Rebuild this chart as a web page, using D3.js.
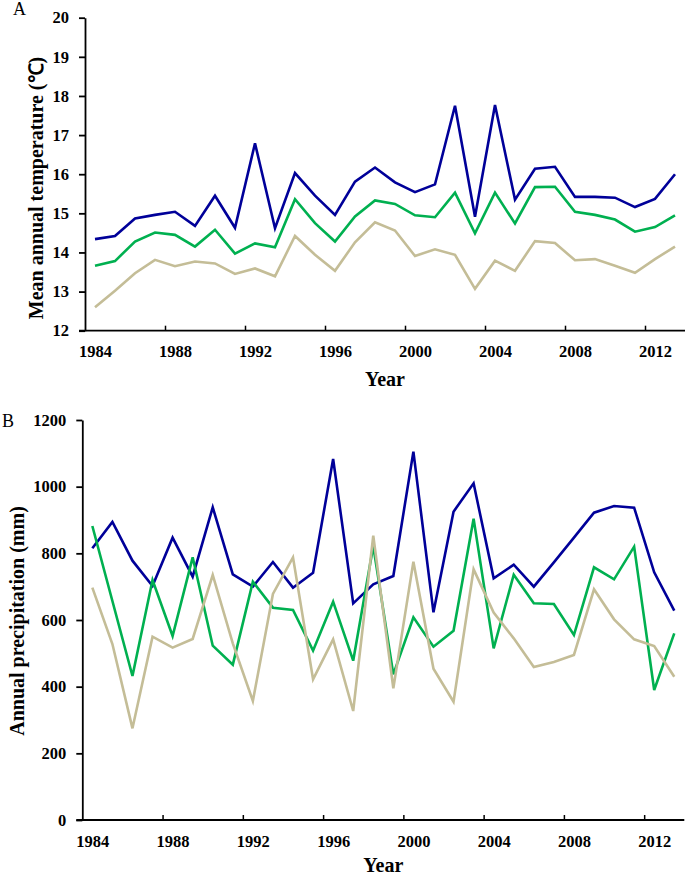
<!DOCTYPE html>
<html><head><meta charset="utf-8">
<script src="https://cdn.jsdelivr.net/npm/d3@7"></script>
<style>
body{margin:0;background:#fff}
svg{display:block}
text{font-family:"Liberation Serif","Times New Roman",serif}
</style>
</head><body>
<svg id="c" width="685" height="876"></svg>
<script>
// ---------- data ----------
const years = [1984,1985,1986,1987,1988,1989,1990,1991,1992,1993,1994,1995,1996,1997,1998,1999,2000,2001,2002,2003,2004,2005,2006,2007,2008,2009,2010,2011,2012,2013];
const yearLabels = [1984,1988,1992,1996,2000,2004,2008,2012];
const yearBoundaryTicks = [1988,1992,1996,2000,2004,2008,2012];

const tempTicks = [12,13,14,15,16,17,18,19,20];
const tempBlue  = [14.34,14.42,14.87,14.96,15.04,14.68,15.45,14.63,16.79,14.62,16.03,15.45,14.96,15.81,16.17,15.79,15.54,15.74,17.75,14.91,17.77,15.35,16.14,16.19,15.42,15.42,15.40,15.16,15.37,16.00];
const tempGreen = [13.66,13.78,14.28,14.51,14.45,14.15,14.58,13.97,14.23,14.13,15.36,14.75,14.28,14.92,15.33,15.24,14.95,14.90,15.53,14.49,15.53,14.74,15.67,15.68,15.04,14.96,14.84,14.53,14.65,14.95];
const tempTan   = [12.60,13.02,13.47,13.81,13.65,13.77,13.72,13.45,13.59,13.39,14.42,13.94,13.53,14.26,14.77,14.56,13.91,14.08,13.94,13.07,13.79,13.53,14.29,14.24,13.80,13.83,13.66,13.48,13.83,14.15];

const precTicks = [0,200,400,600,800,1000,1200];
const precBlue  = [815,894,778,702,847,730,938,737,700,774,697,742,1083,650,707,732,1105,623,925,1010,725,766,700,773,847,922,942,937,743,628];
const precGreen = [882,657,432,720,552,788,523,466,715,637,630,508,655,478,822,437,608,520,568,904,515,736,650,648,555,758,722,820,390,560];
const precTan   = [697,528,275,550,517,543,735,530,357,678,788,422,542,327,853,395,775,454,355,752,622,545,459,474,495,692,602,542,522,430];

const seriesColors = ["#000099","#00B050","#C4BD97"];

// ---------- drawing ----------
const svg = d3.select("#c");

function panel(cfg){
  const g = svg.append("g");
  const x = d3.scaleLinear().domain([years[0]-0.5, years[years.length-1]+0.5]).range([cfg.left, cfg.right]);
  const y = d3.scaleLinear().domain(cfg.domain).range([cfg.bottom, cfg.top]);

  // y axis
  const ya = g.append("g").attr("transform",`translate(${cfg.left},0)`)
    .call(d3.axisLeft(y).tickValues(cfg.ticks).tickSize(6).tickSizeOuter(0).tickPadding(10).tickFormat(d3.format("d")));
  ya.selectAll("text").attr("font-size","16.5px").attr("font-weight","bold").attr("fill","#000")
    .attr("font-family","Liberation Serif, serif");
  ya.selectAll("line,path").attr("stroke","#000").attr("stroke-width",1.8);

  // x axis: boundary tick marks (inside)
  const xa = g.append("g").attr("transform",`translate(0,${cfg.bottom})`)
    .call(d3.axisBottom(x).tickValues(yearBoundaryTicks.map(d=>d-0.5)).tickSize(-5).tickSizeOuter(0).tickFormat(""));
  xa.select("path").remove();
  xa.selectAll("line").attr("stroke","#000").attr("stroke-width",1.5);
  g.append("line").attr("x1",cfg.left-6).attr("x2",cfg.right).attr("y1",cfg.bottom).attr("y2",cfg.bottom)
    .attr("stroke","#000").attr("stroke-width",1.8);

  // x labels at category centres
  const xl = g.append("g").attr("transform",`translate(0,${cfg.bottom})`)
    .call(d3.axisBottom(x).tickValues(yearLabels).tickSize(0).tickPadding(15).tickFormat(d3.format("d")));
  xl.select("path").remove();
  xl.selectAll("text").attr("font-size","16.5px").attr("font-weight","bold").attr("fill","#000")
    .attr("font-family","Liberation Serif, serif");

  // lines
  const line = d3.line().x((d,i)=>x(years[i])).y(d=>y(d));
  cfg.series.forEach((s,k)=>{
    g.append("path").datum(s).attr("d",line).attr("fill","none")
      .attr("stroke",seriesColors[k]).attr("stroke-width",2.6).attr("stroke-linejoin","miter");
  });

  // titles
  g.append("text").attr("transform",`translate(${cfg.ytX},${cfg.ytY}) rotate(-90)`)
    .attr("text-anchor","middle").attr("dominant-baseline","central")
    .attr("font-size","20px").attr("font-weight","bold").text(cfg.yTitle);
  g.append("text").attr("x",(cfg.left+cfg.right)/2).attr("y",cfg.xtY)
    .attr("text-anchor","middle").attr("font-size","20px").attr("font-weight","bold").text("Year");
  g.append("text").attr("x",cfg.lx).attr("y",cfg.ly).attr("font-size","18px").text(cfg.letter);
}

panel({left:85,right:685,top:17.7,bottom:330.7,domain:[12,20],ticks:tempTicks,
  series:[tempBlue,tempGreen,tempTan],yTitle:"Mean annual temperature (\u2103)",ytX:36,ytY:188,xtY:386,
  letter:"A",lx:13,ly:15});
panel({left:82.3,right:684.3,top:420,bottom:820,domain:[0,1200],ticks:precTicks,
  series:[precBlue,precGreen,precTan],yTitle:"Annual precipitation (mm)",ytX:17,ytY:621,xtY:872,
  letter:"B",lx:2,ly:427});
</script>
</body></html>
